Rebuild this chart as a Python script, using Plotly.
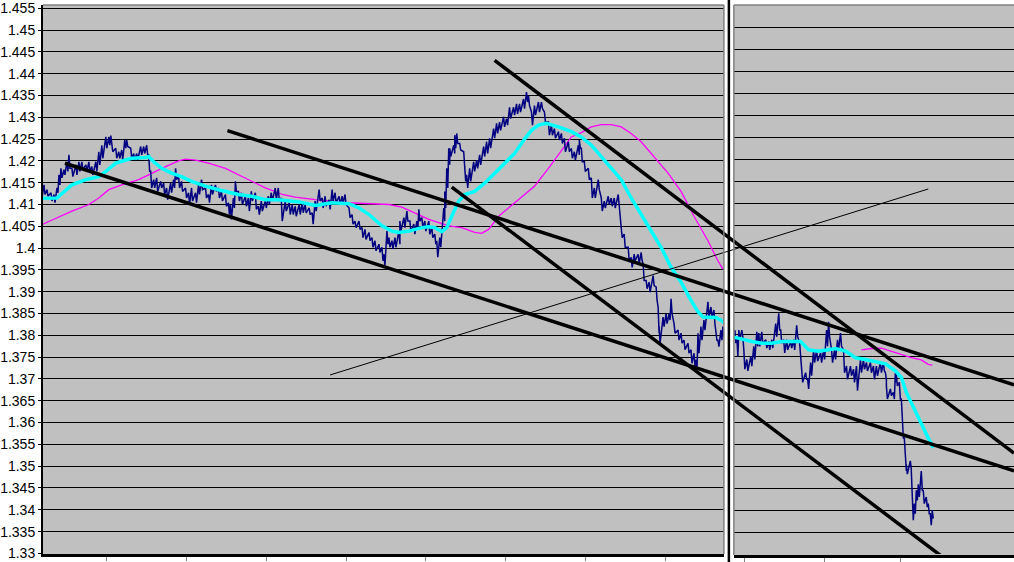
import plotly.graph_objects as go

# ---------------- data ----------------
y_labels = ["1.33", "1.335", "1.34", "1.345", "1.35", "1.355", "1.36", "1.365", "1.37",
            "1.375", "1.38", "1.385", "1.39", "1.395", "1.4", "1.405", "1.41", "1.415",
            "1.42", "1.425", "1.43", "1.435", "1.44", "1.445", "1.45", "1.455"]

# left panel price (sample time, high, low)
left_t = [0, 3, 6, 10, 13, 16, 18, 20, 23, 26, 28, 31, 35, 38, 41, 45, 48, 51, 55, 58, 61, 65, 68, 70, 71,
          75, 78, 81, 84, 86, 90, 93, 96, 100, 103, 106, 108, 110, 113, 116, 120, 123, 126, 130, 133, 135,
          138, 141, 145, 148, 151, 155, 158, 161, 165, 168, 171, 175, 178, 181, 185, 188, 190, 193, 195,
          198, 201, 205, 208, 211, 215, 218, 221, 225, 228, 231, 235, 238, 241, 245,
          249, 252, 255, 259, 262, 265, 269, 272, 275, 279, 282, 285, 289, 292, 295, 299, 302, 305, 309,
          312, 315, 319, 322, 325, 329, 332, 335, 339, 342, 344, 347, 349, 352, 355, 359, 360, 364, 367,
          370, 374, 377, 379, 382, 385, 389, 392, 395, 397, 400, 404, 405, 407, 409, 410, 414, 415, 417,
          420, 424, 425, 427, 430, 434, 437, 440, 444, 447, 450, 454, 457, 460, 464, 467, 470, 474, 477,
          480, 484, 487, 489,
          492, 495, 499, 502, 505, 509, 512, 515, 519, 522, 525, 529, 532, 535, 539, 540, 542, 545, 549,
          552, 555, 559, 562, 565, 569, 572, 575, 579, 580, 582, 585, 589, 592, 595, 599, 602, 604, 607,
          610, 614, 617, 619, 620, 624, 627, 630, 632, 635, 639, 642, 645, 649, 652, 655, 657, 659, 662,
          665, 669, 672, 675, 677, 679, 682, 684]
left_hi = [1.4138, 1.4145, 1.4134, 1.4127, 1.4123, 1.4138, 1.4168, 1.4183, 1.4180, 1.4198, 1.4214, 1.4183,
           1.4191, 1.4198, 1.4198, 1.4191, 1.4198, 1.4187, 1.4198, 1.4221, 1.4236, 1.4255, 1.4255, 1.4258,
           1.4244, 1.4229, 1.4221, 1.4225, 1.4248, 1.4248, 1.4229, 1.4217, 1.4217, 1.4233, 1.4233, 1.4236,
           1.4214, 1.4176, 1.4157, 1.4161, 1.4153, 1.4149, 1.4138, 1.4149, 1.4157, 1.4183, 1.4164, 1.4153,
           1.4138, 1.4127, 1.4138, 1.4127, 1.4145, 1.4157, 1.4138, 1.4123, 1.4145, 1.4145, 1.4138, 1.4130,
           1.4123, 1.4104, 1.4100, 1.4115, 1.4153, 1.4130, 1.4127, 1.4119, 1.4115, 1.4130, 1.4127, 1.4096,
           1.4108, 1.4108, 1.4119, 1.4127, 1.4138, 1.4138, 1.4115, 1.4108,
           1.4104, 1.4100, 1.4096, 1.4100, 1.4104, 1.4100, 1.4092, 1.4081, 1.4108, 1.4134, 1.4115, 1.4119,
           1.4111, 1.4134, 1.4127, 1.4119, 1.4119, 1.4123, 1.4092, 1.4077, 1.4062, 1.4062, 1.4047, 1.4043,
           1.4036, 1.4024, 1.4017, 1.4009, 1.4002, 1.3986, 1.4039, 1.4024, 1.4017, 1.4024, 1.4039, 1.4062,
           1.4070, 1.4085, 1.4062, 1.4055, 1.4062, 1.4089, 1.4070, 1.4062, 1.4062, 1.4047, 1.4032, 1.4017,
           1.4024, 1.4092, 1.4130, 1.4183, 1.4229, 1.4229, 1.4236, 1.4259, 1.4263, 1.4240, 1.4221, 1.4183,
           1.4168, 1.4183, 1.4198, 1.4202, 1.4214, 1.4233, 1.4244, 1.4252, 1.4274, 1.4286, 1.4289, 1.4301,
           1.4297, 1.4323, 1.4323, 1.4331, 1.4331, 1.4342, 1.4358, 1.4350,
           1.4312, 1.4327, 1.4335, 1.4335, 1.4312, 1.4289, 1.4282, 1.4274, 1.4267, 1.4263, 1.4252, 1.4244,
           1.4229, 1.4221, 1.4236, 1.4248, 1.4229, 1.4198, 1.4183, 1.4161, 1.4138, 1.4157, 1.4115, 1.4108,
           1.4119, 1.4115, 1.4115, 1.4123, 1.4108, 1.4047, 1.4032, 1.4002, 1.3979, 1.3986, 1.3986, 1.3990,
           1.3964, 1.3926, 1.3922, 1.3937, 1.3911, 1.3865, 1.3820, 1.3842, 1.3850, 1.3850, 1.3884, 1.3827,
           1.3812, 1.3805, 1.3789, 1.3782, 1.3767, 1.3759, 1.3744, 1.3805, 1.3820, 1.3835, 1.3877, 1.3865,
           1.3858, 1.3812, 1.3789, 1.3812, 1.3820]
left_lo = [1.4115, 1.4123, 1.4119, 1.4108, 1.4104, 1.4127, 1.4145, 1.4161, 1.4168, 1.4176, 1.4183, 1.4164,
           1.4168, 1.4176, 1.4180, 1.4176, 1.4176, 1.4168, 1.4176, 1.4191, 1.4206, 1.4229, 1.4236, 1.4244,
           1.4221, 1.4206, 1.4206, 1.4202, 1.4229, 1.4233, 1.4206, 1.4202, 1.4202, 1.4214, 1.4217, 1.4214,
           1.4176, 1.4138, 1.4138, 1.4130, 1.4138, 1.4123, 1.4111, 1.4127, 1.4138, 1.4157, 1.4138, 1.4130,
           1.4115, 1.4100, 1.4108, 1.4104, 1.4123, 1.4134, 1.4115, 1.4104, 1.4123, 1.4130, 1.4115, 1.4108,
           1.4096, 1.4077, 1.4066, 1.4092, 1.4130, 1.4108, 1.4100, 1.4096, 1.4085, 1.4108, 1.4089, 1.4077,
           1.4085, 1.4092, 1.4100, 1.4108, 1.4111, 1.4108, 1.4062, 1.4085,
           1.4077, 1.4077, 1.4073, 1.4077, 1.4081, 1.4081, 1.4077, 1.4055, 1.4085, 1.4108, 1.4092, 1.4096,
           1.4089, 1.4108, 1.4104, 1.4100, 1.4104, 1.4100, 1.4070, 1.4055, 1.4047, 1.4043, 1.4024, 1.4020,
           1.4017, 1.4002, 1.3994, 1.3990, 1.3971, 1.3960, 1.4009, 1.4002, 1.3998, 1.4002, 1.4009, 1.4039,
           1.4047, 1.4062, 1.4039, 1.4032, 1.4043, 1.4062, 1.4047, 1.4039, 1.4032, 1.4024, 1.4009, 1.3979,
           1.4002, 1.4062, 1.4092, 1.4138, 1.4191, 1.4210, 1.4217, 1.4229, 1.4240, 1.4225, 1.4176, 1.4153,
           1.4138, 1.4153, 1.4176, 1.4183, 1.4191, 1.4210, 1.4217, 1.4229, 1.4252, 1.4263, 1.4270, 1.4278,
           1.4282, 1.4297, 1.4305, 1.4308, 1.4312, 1.4320, 1.4335, 1.4327,
           1.4282, 1.4305, 1.4312, 1.4320, 1.4289, 1.4259, 1.4259, 1.4252, 1.4248, 1.4240, 1.4221, 1.4221,
           1.4206, 1.4202, 1.4214, 1.4229, 1.4198, 1.4176, 1.4157, 1.4115, 1.4115, 1.4134, 1.4085, 1.4092,
           1.4100, 1.4096, 1.4092, 1.4092, 1.4077, 1.4024, 1.4002, 1.3971, 1.3956, 1.3971, 1.3964, 1.3971,
           1.3926, 1.3907, 1.3899, 1.3914, 1.3880, 1.3805, 1.3782, 1.3820, 1.3827, 1.3835, 1.3850, 1.3805,
           1.3789, 1.3782, 1.3767, 1.3759, 1.3736, 1.3729, 1.3721, 1.3759, 1.3789, 1.3812, 1.3842, 1.3842,
           1.3827, 1.3789, 1.3774, 1.3789, 1.3797]

# right panel price
right_t = [1, 3, 5, 8, 10, 13, 17, 20, 23, 25, 28, 32, 35, 38, 42, 45, 47, 50, 53, 57, 60, 63, 66, 68, 72,
           74, 77, 80, 83, 87, 90, 93, 95, 98, 101, 104, 107, 110, 113, 117, 120, 123, 127, 130, 133, 137,
           140, 143, 147, 150, 152, 153, 157, 160, 162, 163, 166, 168, 169, 171, 172, 173, 177, 178, 179,
           181, 183, 185, 188, 190, 193, 195, 197, 199]
right_hi = [1.3811, 1.3796, 1.3811, 1.3811, 1.3766, 1.3744, 1.3751, 1.3774, 1.3807, 1.3804, 1.3807, 1.3789,
            1.3785, 1.3789, 1.3826, 1.3849, 1.3811, 1.3789, 1.3789, 1.3785, 1.3789, 1.3822, 1.3781, 1.3714,
            1.3714, 1.3699, 1.3737, 1.3766, 1.3766, 1.3759, 1.3766, 1.3811, 1.3830, 1.3766, 1.3766, 1.3789,
            1.3804, 1.3766, 1.3729, 1.3729, 1.3722, 1.3729, 1.3744, 1.3744, 1.3737, 1.3737, 1.3729, 1.3729,
            1.3737, 1.3737, 1.3714, 1.3684, 1.3677, 1.3669, 1.3714, 1.3710, 1.3692, 1.3654, 1.3610, 1.3565,
            1.3520, 1.3505, 1.3513, 1.3490, 1.3431, 1.3416, 1.3446, 1.3460, 1.3490, 1.3446, 1.3431, 1.3416,
            1.3393, 1.3401]
right_lo = [1.3781, 1.3751, 1.3789, 1.3796, 1.3722, 1.3718, 1.3729, 1.3744, 1.3774, 1.3774, 1.3781, 1.3770,
            1.3766, 1.3770, 1.3796, 1.3811, 1.3781, 1.3759, 1.3766, 1.3770, 1.3766, 1.3796, 1.3744, 1.3692,
            1.3699, 1.3677, 1.3707, 1.3737, 1.3740, 1.3737, 1.3744, 1.3774, 1.3796, 1.3737, 1.3744, 1.3766,
            1.3774, 1.3714, 1.3699, 1.3707, 1.3692, 1.3673, 1.3714, 1.3722, 1.3718, 1.3714, 1.3699, 1.3707,
            1.3714, 1.3718, 1.3699, 1.3654, 1.3662, 1.3654, 1.3692, 1.3684, 1.3654, 1.3610, 1.3565, 1.3520,
            1.3490, 1.3483, 1.3494, 1.3431, 1.3378, 1.3393, 1.3423, 1.3431, 1.3446, 1.3416, 1.3408, 1.3393,
            1.3367, 1.3382]

# moving averages (fast = cyan, slow = magenta)
left_fast_t = [0, 16, 20, 31, 45, 58, 65, 75, 85, 91, 105, 108, 113, 121, 131, 141, 151, 165, 178, 191,
               198, 211, 225, 238, 259, 275, 292, 309, 319, 329, 342, 352, 359, 369, 382, 389, 395, 402,
               407, 412, 419, 425, 435, 445, 455, 465, 475, 485, 492, 499, 507, 519, 532, 542, 552, 565,
               582, 592, 602, 612, 622, 632, 642, 652, 659, 664, 672, 677, 682, 685]
left_fast = [1.4114, 1.4115, 1.4123, 1.4145, 1.4157, 1.4164, 1.4176, 1.4195, 1.4202, 1.4206, 1.4208,
             1.4210, 1.4198, 1.4183, 1.4172, 1.4164, 1.4153, 1.4142, 1.4134, 1.4127, 1.4123, 1.4119,
             1.4111, 1.4111, 1.4106, 1.4098, 1.4104, 1.4102, 1.4092, 1.4077, 1.4051, 1.4039, 1.4036,
             1.4039, 1.4047, 1.4049, 1.4047, 1.4038, 1.4047, 1.4073, 1.4108, 1.4123, 1.4130, 1.4149,
             1.4172, 1.4195, 1.4217, 1.4250, 1.4270, 1.4282, 1.4286, 1.4278, 1.4267, 1.4255, 1.4236,
             1.4202, 1.4157, 1.4115, 1.4077, 1.4039, 1.4002, 1.3956, 1.3922, 1.3880, 1.3854, 1.3842,
             1.3842, 1.3841, 1.3835, 1.3829]
left_slow_t = [0, 31, 48, 58, 68, 81, 98, 111, 125, 138, 145, 155, 168, 185, 198, 211, 225, 238, 242, 255,
               275, 309, 349, 362, 375, 389, 402, 409, 422, 435, 442, 449, 459, 469, 479, 495, 509, 522,
               532, 542, 552, 562, 572, 582, 592, 602, 615, 629, 642, 655, 669, 679, 684]
left_slow = [1.4053, 1.4085, 1.4100, 1.4115, 1.4134, 1.4145, 1.4157, 1.4172, 1.4187, 1.4200, 1.4204,
             1.4202, 1.4195, 1.4183, 1.4168, 1.4153, 1.4138, 1.4127, 1.4123, 1.4117, 1.4111, 1.4104,
             1.4100, 1.4094, 1.4081, 1.4066, 1.4056, 1.4051, 1.4047, 1.4036, 1.4034, 1.4043, 1.4073,
             1.4092, 1.4111, 1.4142, 1.4183, 1.4225, 1.4255, 1.4265, 1.4278, 1.4283, 1.4283, 1.4278,
             1.4263, 1.4244, 1.4210, 1.4172, 1.4130, 1.4073, 1.4017, 1.3971, 1.3952]
right_fast_t = [0, 8, 18, 28, 38, 48, 58, 67, 75, 85, 95, 102, 112, 122, 132, 142, 152, 162, 168, 173,
                182, 188, 195, 200]
right_fast = [1.3795, 1.3790, 1.3785, 1.3781, 1.3781, 1.3785, 1.3784, 1.3785, 1.3766, 1.3763, 1.3766,
              1.3769, 1.3763, 1.3748, 1.3744, 1.3740, 1.3734, 1.3718, 1.3703, 1.3669, 1.3625, 1.3595,
              1.3565, 1.3543]
right_slow_t = [128, 138, 148, 158, 168, 178, 188, 195, 199]
right_slow = [1.3766, 1.3769, 1.3770, 1.3763, 1.3755, 1.3748, 1.3743, 1.3733, 1.3731]

# hand-drawn trend lines (time on the left-panel scale, price)
trend_t0 = [24, 187, 455, 412]
trend_v0 = [1.41946, 1.42694, 1.44305, 1.41401]
trend_t1 = [976, 976, 976, 907]
trend_v1 = [1.34892, 1.36865, 1.35300, 1.32873]
thin_t = [290, 890]
thin_v = [1.37092, 1.41356]

left_tick_t = [66, 146, 226, 306, 386, 466, 546, 626]
right_tick_t = [11, 91, 167]

# ---------------- figure ----------------
W, H = 1014, 562
ML, MR, MT, MB = 40, 0, 2, 4
PW, PH = W - ML - MR, H - MT - MB
GRAY = "#C0C0C0"
FONT = "Liberation Sans, Arial, sans-serif"


def zig(ts, hi, lo):
    xs, ys = [], []
    for t, a, b in zip(ts, hi, lo):
        xs += [t, t + 1]
        ys += [a, b]
    return xs, ys


fig = go.Figure()

# left panel
lx, ly = zig(left_t, left_hi, left_lo)
fig.add_trace(go.Scatter(x=left_slow_t, y=left_slow, mode="lines", line=dict(color="#FF00FF", width=1.3),
                         xaxis="x", yaxis="y"))
fig.add_trace(go.Scatter(x=lx, y=ly, mode="lines", line=dict(color="#000080", width=1.5),
                         xaxis="x", yaxis="y"))
fig.add_trace(go.Scatter(x=left_fast_t, y=left_fast, mode="lines", line=dict(color="#00FFFF", width=3.5),
                         xaxis="x", yaxis="y"))

# right panel
rx, ry = zig(right_t, right_hi, right_lo)
fig.add_trace(go.Scatter(x=right_slow_t, y=right_slow, mode="lines", line=dict(color="#FF00FF", width=1.3),
                         xaxis="x2", yaxis="y2"))
fig.add_trace(go.Scatter(x=rx, y=ry, mode="lines", line=dict(color="#000080", width=1.5),
                         xaxis="x2", yaxis="y2"))
fig.add_trace(go.Scatter(x=right_fast_t, y=right_fast, mode="lines", line=dict(color="#00FFFF", width=3.5),
                         xaxis="x2", yaxis="y2"))

# trend lines overlay across both panels
for a, b, c, d in zip(trend_t0, trend_v0, trend_t1, trend_v1):
    fig.add_trace(go.Scatter(x=[a, c], y=[b, d], mode="lines", line=dict(color="black", width=3.5),
                             xaxis="x3", yaxis="y3"))
fig.add_trace(go.Scatter(x=thin_t, y=thin_v, mode="lines", line=dict(color="black", width=1),
                         xaxis="x3", yaxis="y3"))

left_end = 723
right_start = 733
dom_left = [0, (left_end - ML) / PW]
dom_right = [(right_start - ML) / PW, 1]
ydom_left = [(H - MB - 557) / PH, 1]
y_left_range = [1.32986, 1.45575]
y_right_range = [1.32989, 1.45511]

tick_vals = [float(s) for s in y_labels]

fig.update_layout(
    width=W, height=H,
    margin=dict(l=ML, r=MR, t=MT, b=MB, pad=0),
    paper_bgcolor="white", plot_bgcolor="rgba(0,0,0,0)",
    showlegend=False, hovermode=False,
    font=dict(family=FONT, size=14, color="black"),
    xaxis=dict(domain=dom_left, range=[2, 685], anchor="y", showgrid=False, zeroline=False,
               showline=True, linecolor="black", linewidth=3, ticks="outside", ticklen=4,
               tickcolor="#808080", tickvals=left_tick_t, showticklabels=False),
    yaxis=dict(domain=ydom_left, range=y_left_range, anchor="x", tickvals=tick_vals, ticktext=y_labels,
               showgrid=True, gridcolor="black", gridwidth=1, zeroline=False, showline=True,
               linecolor="black", linewidth=2, ticks="outside", ticklen=3, tickcolor="black",
               ticklabeloverflow="allow", ticklabelstandoff=0,
               tickfont=dict(family=FONT, size=14, color="black")),
    xaxis2=dict(domain=dom_right, range=[0, 281], anchor="y2", showgrid=False, zeroline=False,
                showline=True, linecolor="black", linewidth=3, ticks="outside", ticklen=4,
                tickcolor="#808080", tickvals=right_tick_t, showticklabels=False),
    yaxis2=dict(domain=[0, 1], range=y_right_range, anchor="x2", tickvals=tick_vals,
                showticklabels=False, showgrid=True, gridcolor="black", gridwidth=1, zeroline=False,
                showline=False, ticks=""),
    xaxis3=dict(domain=[0, 1], range=[2, 976], anchor="y3", visible=False),
    yaxis3=dict(domain=ydom_left, range=y_left_range, anchor="x3", visible=False),
)

shapes = [
    dict(type="rect", xref="x domain", yref="y domain", x0=0, x1=1, y0=0, y1=1,
         fillcolor=GRAY, line=dict(width=0), layer="below"),
    dict(type="rect", xref="x2 domain", yref="y2 domain", x0=0, x1=1, y0=0, y1=1,
         fillcolor=GRAY, line=dict(width=0), layer="below"),
    # panel borders
    dict(type="line", xref="x domain", yref="y domain", x0=0, x1=1, y0=1, y1=1,
         line=dict(color="#808080", width=1.5)),
    dict(type="line", xref="x domain", yref="y domain", x0=1, x1=1, y0=0, y1=1,
         line=dict(color="#808080", width=1.5)),
    dict(type="line", xref="x2 domain", yref="y2 domain", x0=0, x1=1, y0=1, y1=1,
         line=dict(color="#808080", width=1.5)),
    dict(type="line", xref="x2 domain", yref="y2 domain", x0=0, x1=0, y0=0, y1=1,
         line=dict(color="#808080", width=1.5)),
    # separator between the two panels
    dict(type="line", xref="paper", yref="paper", x0=(728 - ML) / PW, x1=(728 - ML) / PW,
         y0=-0.02, y1=1.02, line=dict(color="black", width=2.5)),
]
fig.update_layout(shapes=shapes)

fig.write_html("out.html", config={"displayModeBar": False},
               post_script="document.body.style.margin='0';")
